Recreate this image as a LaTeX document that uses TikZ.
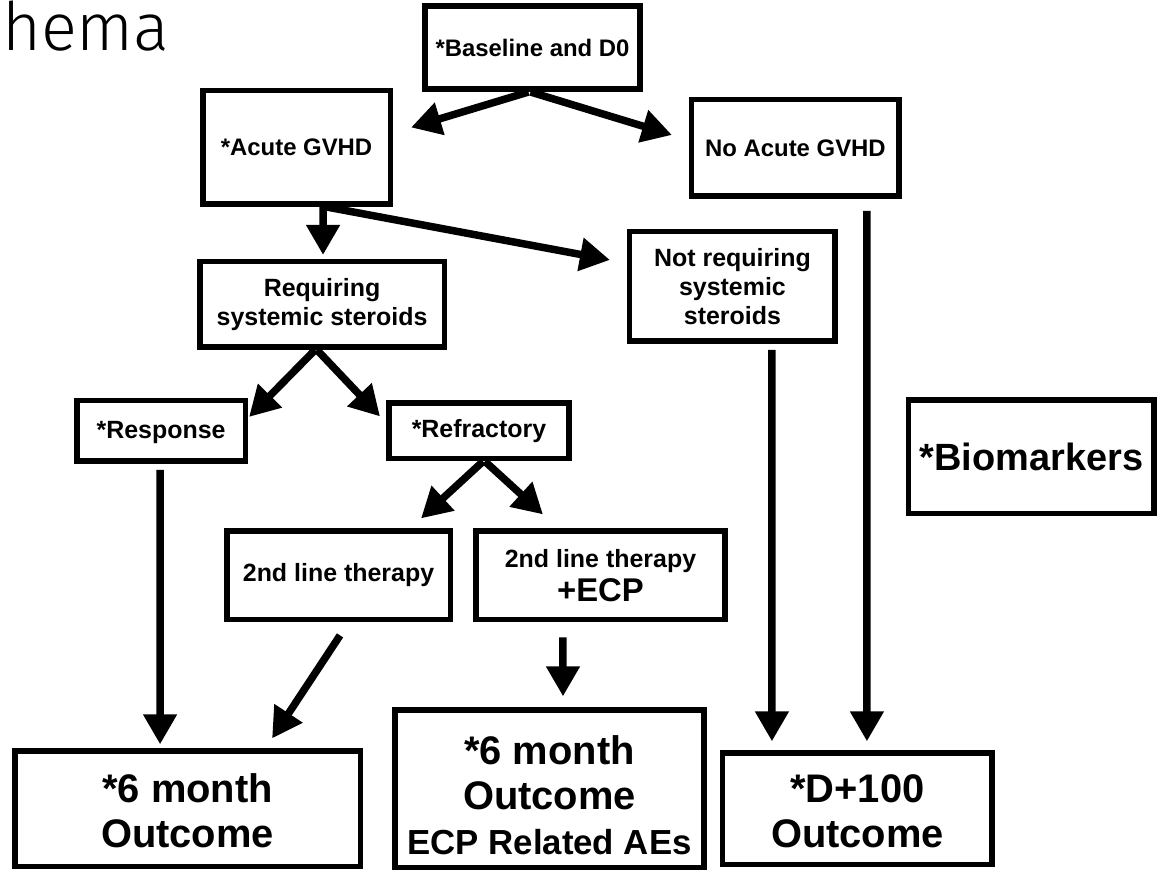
\documentclass[tikz,border=0pt]{standalone}
\usepackage{fontspec}
\setmainfont{Liberation Sans}
\newfontfamily\titlefont{Fira Sans Light}
\usetikzlibrary{positioning,arrows.meta,calc}

\begin{document}
\begin{tikzpicture}[
  x=0.02cm, y=-0.02cm,
  box/.style={rectangle, draw, line width=0.11cm, inner sep=0pt, align=center, font=\bfseries\fontsize{14.2}{16.5}\selectfont},
  lowtxt/.style={font=\bfseries\fontsize{13.6}{16}\selectfont},
  bigtxt/.style={font=\bfseries\fontsize{22.7}{25.5}\selectfont},
  flow/.style={-{Triangle[length=0.6cm,width=0.64cm]}, line width=0.15cm}
]
\useasboundingbox (0,0) rectangle (1157,873);

\node[anchor=base west, font=\titlefont\fontsize{38}{42}\selectfont] (title) at (-4,50) {hema};

\node[box, lowtxt, minimum width=4.31cm, minimum height=1.67cm] (base) at (532.5,47.5) {*Baseline and D0};
\node[box, lowtxt, below of=base, node distance=2cm, xshift=-4.72cm, minimum width=3.75cm, minimum height=2.27cm] (acute) {*Acute GVHD};
\node[box, lowtxt, below of=base, node distance=2.01cm, xshift=5.26cm, minimum width=4.15cm, minimum height=1.93cm] (noacute) {No Acute GVHD};
\node[box, below of=acute, node distance=3.14cm, xshift=0.51cm, minimum width=4.89cm, minimum height=1.71cm] (req) {Requiring\\systemic steroids};
\node[box, below of=noacute, node distance=2.77cm, xshift=-1.26cm, minimum width=4.11cm, minimum height=2.19cm] (notreq) {Not requiring\\systemic\\steroids};
\node[box, below of=req, node distance=2.53cm, xshift=-3.22cm, minimum width=3.37cm, minimum height=1.21cm] (resp) {\rule{0pt}{12pt}*Response};
\node[box, right of=resp, node distance=6.36cm, minimum width=3.61cm, minimum height=1.11cm] (refr) {*Refractory};
\node[box, below of=refr, node distance=2.89cm, xshift=-2.81cm, minimum width=4.47cm, minimum height=1.77cm] (second) {2nd line therapy};
\node[box, right of=second, node distance=5.24cm, minimum width=4.99cm, minimum height=1.77cm] (ecp) {2nd line therapy\\[3pt]{\fontsize{18.7}{21}\selectfont +ECP}};
\node[box, bigtxt, below of=second, node distance=4.67cm, xshift=-3.02cm, minimum width=6.91cm, minimum height=2.31cm] (sixleft) {\rule{0pt}{19pt}*6 month\\Outcome};
\node[box, bigtxt, below of=ecp, node distance=4.27cm, xshift=-1.02cm, minimum width=6.19cm, minimum height=3.15cm] (sixmid) {\rule{0pt}{24pt}*6 month\\Outcome\\{\fontsize{19.8}{22}\selectfont ECP Related AEs}};
\node[box, bigtxt, right of=sixleft, node distance=13.4cm, minimum width=5.39cm, minimum height=2.23cm] (dhundred) {\rule{0pt}{19pt}*D+100\\Outcome};
\node[box, right of=refr, node distance=11.05cm, yshift=-0.52cm, minimum width=4.91cm, minimum height=2.27cm, font=\bfseries\fontsize{21.6}{24}\selectfont] (bio) {*Biomarkers};

% branches
\draw[flow] ($(base.south)+(-4,0)$) -- ($(acute.east)+(18,-20)$);
\draw[flow] ($(base.south)+(-2,0)$) -- ($(noacute.west)+(-17,-13)$);
\draw[flow] ($(acute.south)+(26.5,0)$) -- ($(req.north)+(1,-4)$);
\draw[flow] ($(acute.south)+(30,0)$) -- ($(notreq.west)+(-17,-26.5)$);
\draw[flow] ($(req.south)+(-7,0)$) -- ($(resp.north east)+(1,19)$);
\draw[flow] ($(req.south)+(-5,0)$) -- ($(refr.north west)+(-6,16)$);
\draw[flow] ($(refr.south)+(4,0)$) -- ($(second.north east)+(-32,-10)$);
\draw[flow] ($(refr.south)+(6,0)$) -- ($(ecp.north)+(-57.5,-14)$);
% outcomes
\draw[flow] ($(resp.south)+(-1,6)$) -- ($(sixleft.north)+(-27.5,-4)$);
\draw[flow] ($(second.south)+(1.5,13)$) -- ($(sixleft.north)+(84.5,-10)$);
\draw[flow] ($(ecp.south)+(-37.5,15)$) -- ($(sixmid.north)+(13.5,-11)$);
\draw[flow] ($(notreq.south)+(39.5,6)$) -- ($(dhundred.north)+(-85.5,-9)$);
\draw[flow] ($(noacute.south)+(71.5,12)$) -- ($(dhundred.north)+(9.5,-9)$);
\end{tikzpicture}
\end{document}
